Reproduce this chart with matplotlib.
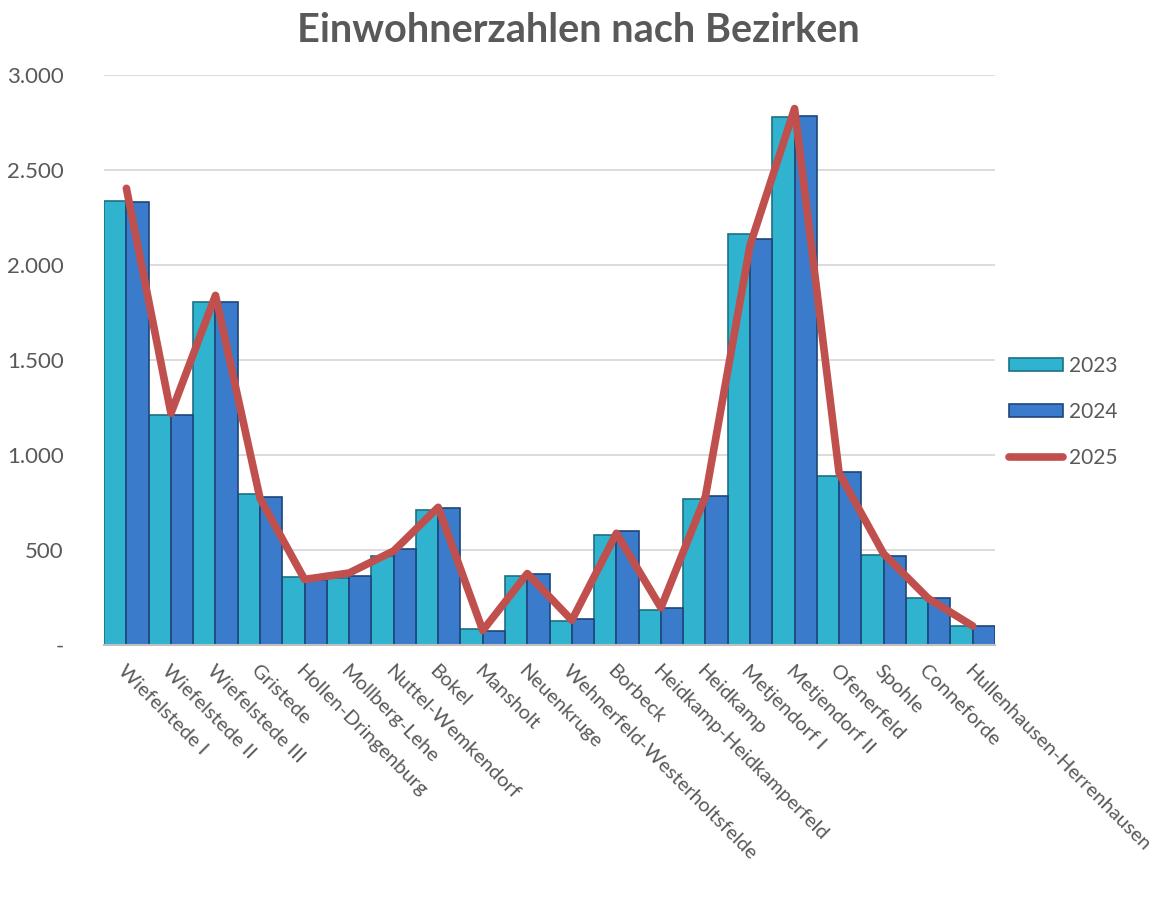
import numpy as np
import matplotlib.pyplot as plt
from matplotlib.ticker import FuncFormatter

plt.rcParams['font.family'] = ['Lato', 'DejaVu Sans']

bezirke = ["Wiefelstede I", "Wiefelstede II", "Wiefelstede III", "Gristede",
           "Hollen-Dringenburg", "Mollberg-Lehe", "Nuttel-Wemkendorf", "Bokel",
           "Mansholt", "Neuenkruge", "Wehnerfeld-Westerholtsfelde", "Borbeck",
           "Heidkamp-Heidkamperfeld", "Heidkamp", "Metjendorf I", "Metjendorf II",
           "Ofenerfeld", "Spohle", "Conneforde", "Hullenhausen-Herrenhausen"]

ew_2023 = [2338, 1210, 1804, 796, 359, 355, 468, 712, 83, 362,
           125, 578, 186, 768, 2164, 2778, 889, 475, 245, 98]
ew_2024 = [2335, 1210, 1804, 778, 343, 363, 503, 719, 76, 376,
           138, 599, 196, 783, 2137, 2787, 913, 467, 249, 100]
ew_2025 = [2405, 1220, 1841, 772, 345, 379, 495, 725, 76, 376,
           130, 588, 196, 783, 2105, 2825, 905, 480, 245, 100]

grau = '#595959'

fig = plt.figure(figsize=(11.57, 8.97), dpi=100)
ax = fig.add_axes([0.09, 0.281, 0.77, 0.635])

x = np.arange(len(bezirke))
b1 = ax.bar(x - 0.25, ew_2023, width=0.5, color='#2FB3CF', edgecolor='#1E6F84',
            linewidth=1.2, label='2023', zorder=2)
b2 = ax.bar(x + 0.25, ew_2024, width=0.5, color='#3A7BCB', edgecolor='#1F4577',
            linewidth=1.2, label='2024', zorder=2)
ln, = ax.plot(x, ew_2025, color='#C0504D', linewidth=5.5, solid_capstyle='round',
              solid_joinstyle='round', label='2025', zorder=3)

ax.set_xlim(-0.5, len(bezirke) - 0.5)
ax.set_ylim(0, 3000)
ax.set_yticks(range(0, 3001, 500))
ax.yaxis.set_major_formatter(FuncFormatter(
    lambda v, p: '-' if v == 0 else f'{int(v):,}'.replace(',', '.')))
ax.grid(axis='y', color='#D9D9D9', linewidth=1.3, zorder=0)
ax.set_axisbelow(True)
for s in ['top', 'right', 'left']:
    ax.spines[s].set_visible(False)
ax.spines['bottom'].set_color('#BFBFBF')
ax.spines['bottom'].set_linewidth(1.5)
ax.tick_params(axis='both', length=0, colors=grau)
ax.tick_params(axis='y', pad=29, labelsize=16)

ax.set_xticks(x)
ax.set_xticklabels(bezirke, rotation=-45, ha='left', va='top',
                   rotation_mode='anchor', fontsize=14.5, color=grau)
ax.tick_params(axis='x', pad=12)

ax.set_title('Einwohnerzahlen nach Bezirken', fontsize=28.5, fontweight='bold',
             color=grau, pad=24, x=0.532)

ax.legend(handles=[b1, b2, ln], loc='center left', bbox_to_anchor=(0.995, 0.409),
          frameon=False, fontsize=15, labelcolor=grau, handlelength=2.6,
          handleheight=0.6, labelspacing=1.25, handletextpad=0.25)

fig.savefig('out.png', dpi=100)
